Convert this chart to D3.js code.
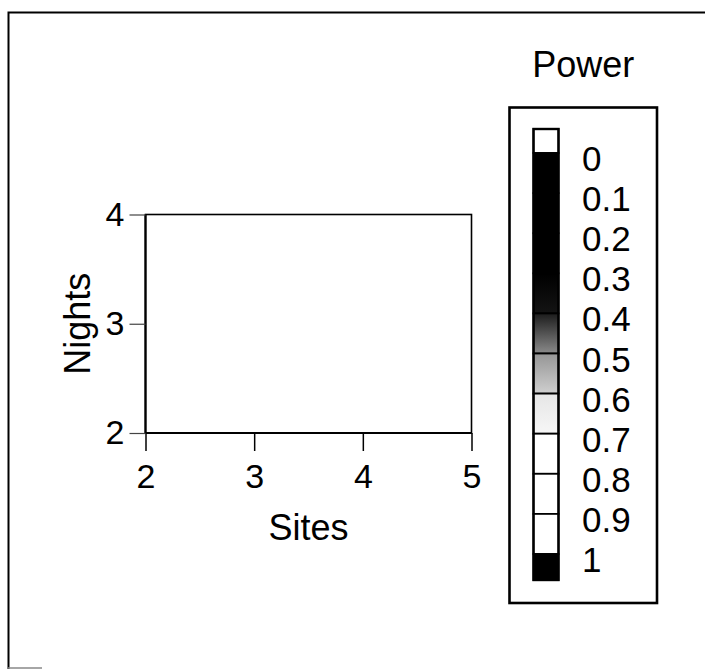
<!DOCTYPE html>
<html>
<head>
<meta charset="utf-8">
<script src="https://cdn.jsdelivr.net/npm/d3@7"></script>
<style>
  html, body { margin: 0; padding: 0; background: #fff; }
  svg { display: block; font-family: "Liberation Sans", Arial, Helvetica, sans-serif; }
</style>
</head>
<body>
<svg id="chart" width="705" height="669"></svg>
<script>
// ---- data ----
const sitesTicks = [2, 3, 4, 5];
const nightsTicks = [2, 3, 4];
const sitesDomain = [2, 5];
const nightsDomain = [2, 4];
const powerTicks = [0, 0.1, 0.2, 0.3, 0.4, 0.5, 0.6, 0.7, 0.8, 0.9, 1];
const powerLabels = ["0", "0.1", "0.2", "0.3", "0.4", "0.5", "0.6", "0.7", "0.8", "0.9", "1"];
// shade at top and bottom of each power cell (0-0.1 ... 0.9-1)
const cellTopShade =    ["#000", "#000", "#000", "#000", "#1c1c1c", "#959595", "#e6e6e6", "#fff", "#fff", "#fff"];
const cellBottomShade = ["#000", "#000", "#000", "#141414", "#8a8a8a", "#cfcfcf", "#f6f6f6", "#fff", "#fff", "#fff"];
const underShade = "#fff";
const overShade = "#000";

// ---- layout ----
const svg = d3.select("#chart");
const plot = { left: 145.5, right: 471.5, top: 214.5, bottom: 433 };
const x = d3.scaleLinear().domain(sitesDomain).range([plot.left, plot.right]);
const y = d3.scaleLinear().domain(nightsDomain).range([plot.bottom, plot.top]);

// outer frame
svg.append("path")
  .attr("d", "M8.5,669 L8.5,12.5 L705,12.5")
  .attr("fill", "none").attr("stroke", "#000").attr("stroke-width", 2);
svg.append("line").attr("x1", 8).attr("x2", 42).attr("y1", 668).attr("y2", 668)
  .attr("stroke", "#888").attr("stroke-width", 1.5);

// plot box
svg.append("rect")
  .attr("x", plot.left).attr("y", plot.top)
  .attr("width", plot.right - plot.left).attr("height", plot.bottom - plot.top)
  .attr("fill", "#fff").attr("stroke", "#000").attr("stroke-width", 1.6);
svg.append("line").attr("x1", plot.left).attr("x2", plot.left)
  .attr("y1", plot.top).attr("y2", plot.bottom).attr("stroke", "#000").attr("stroke-width", 2.2);
svg.append("line").attr("x1", plot.left).attr("x2", plot.right)
  .attr("y1", plot.bottom).attr("y2", plot.bottom).attr("stroke", "#000").attr("stroke-width", 2.2);

// x axis
const xAxis = d3.axisBottom(x).tickValues(sitesTicks).tickFormat(d3.format("d"))
  .tickSizeInner(18).tickSizeOuter(0).tickPadding(13);
const gx = svg.append("g").attr("transform", `translate(0,${plot.bottom})`).call(xAxis);
gx.select(".domain").remove();
gx.selectAll(".tick line").attr("stroke", "#000").attr("stroke-width", 1.5);
gx.selectAll(".tick text").attr("font-size", 34).attr("fill", "#000")
  .attr("font-family", "Liberation Sans, Arial, sans-serif");

// y axis
const yAxis = d3.axisLeft(y).tickValues(nightsTicks).tickFormat(d3.format("d"))
  .tickSizeInner(16).tickSizeOuter(0).tickPadding(5);
const gy = svg.append("g").attr("transform", `translate(${plot.left},0)`).call(yAxis);
gy.select(".domain").remove();
gy.selectAll(".tick line").attr("stroke", "#444").attr("stroke-width", 1.2);
gy.selectAll(".tick text").attr("font-size", 34).attr("fill", "#000")
  .attr("font-family", "Liberation Sans, Arial, sans-serif");

// axis titles
svg.append("text").attr("x", (plot.left + plot.right) / 2).attr("y", 540)
  .attr("text-anchor", "middle").attr("font-size", 36).text("Sites");
svg.append("text")
  .attr("transform", `translate(90,${(plot.top + plot.bottom) / 2}) rotate(-90)`)
  .attr("text-anchor", "middle").attr("font-size", 36).text("Nights");

// ---- legend ----
const lg = { left: 509.5, right: 657, top: 107.5, bottom: 603 };
svg.append("rect").attr("x", lg.left).attr("y", lg.top)
  .attr("width", lg.right - lg.left).attr("height", lg.bottom - lg.top)
  .attr("fill", "#fff").attr("stroke", "#000").attr("stroke-width", 2.6);
svg.append("text").attr("x", (lg.left + lg.right) / 2).attr("y", 77)
  .attr("text-anchor", "middle").attr("font-size", 36).text("Power");

const cb = { left: 533.5, right: 558.5, under: 24, over: 26 };
const py = d3.scaleLinear().domain([0, 1]).range([153, 554]);
const defs = svg.append("defs");
const cells = d3.range(powerTicks.length - 1).map(i => ({
  i, y0: py(powerTicks[i]), y1: py(powerTicks[i + 1]),
  top: cellTopShade[i], bottom: cellBottomShade[i]
}));
cells.forEach(c => {
  const g = defs.append("linearGradient").attr("id", "cell" + c.i)
    .attr("x1", 0).attr("x2", 0).attr("y1", 0).attr("y2", 1);
  g.append("stop").attr("offset", "0%").attr("stop-color", c.top);
  g.append("stop").attr("offset", "100%").attr("stop-color", c.bottom);
});
const bar = svg.append("g");
bar.append("rect").attr("x", cb.left).attr("width", cb.right - cb.left)
  .attr("y", py(0) - cb.under).attr("height", cb.under)
  .attr("fill", underShade).attr("stroke", "#000").attr("stroke-width", 1.8);
bar.selectAll("rect.cell").data(cells).join("rect").attr("class", "cell")
  .attr("x", cb.left).attr("width", cb.right - cb.left)
  .attr("y", d => d.y0).attr("height", d => d.y1 - d.y0)
  .attr("fill", d => `url(#cell${d.i})`)
  .attr("stroke", "#000").attr("stroke-width", 1.8);
bar.append("rect").attr("x", cb.left).attr("width", cb.right - cb.left)
  .attr("y", py(1)).attr("height", cb.over)
  .attr("fill", overShade).attr("stroke", "#000").attr("stroke-width", 1.8);
bar.append("rect").attr("x", cb.left).attr("width", cb.right - cb.left)
  .attr("y", py(0) - cb.under).attr("height", py(1) + cb.over - (py(0) - cb.under))
  .attr("fill", "none").attr("stroke", "#000").attr("stroke-width", 2.4);

svg.selectAll("text.plabel").data(powerTicks).join("text").attr("class", "plabel")
  .attr("x", 582).attr("y", d => py(d) + 18)
  .attr("font-size", 35).attr("fill", "#000")
  .text((d, i) => powerLabels[i]);
</script>
</body>
</html>
